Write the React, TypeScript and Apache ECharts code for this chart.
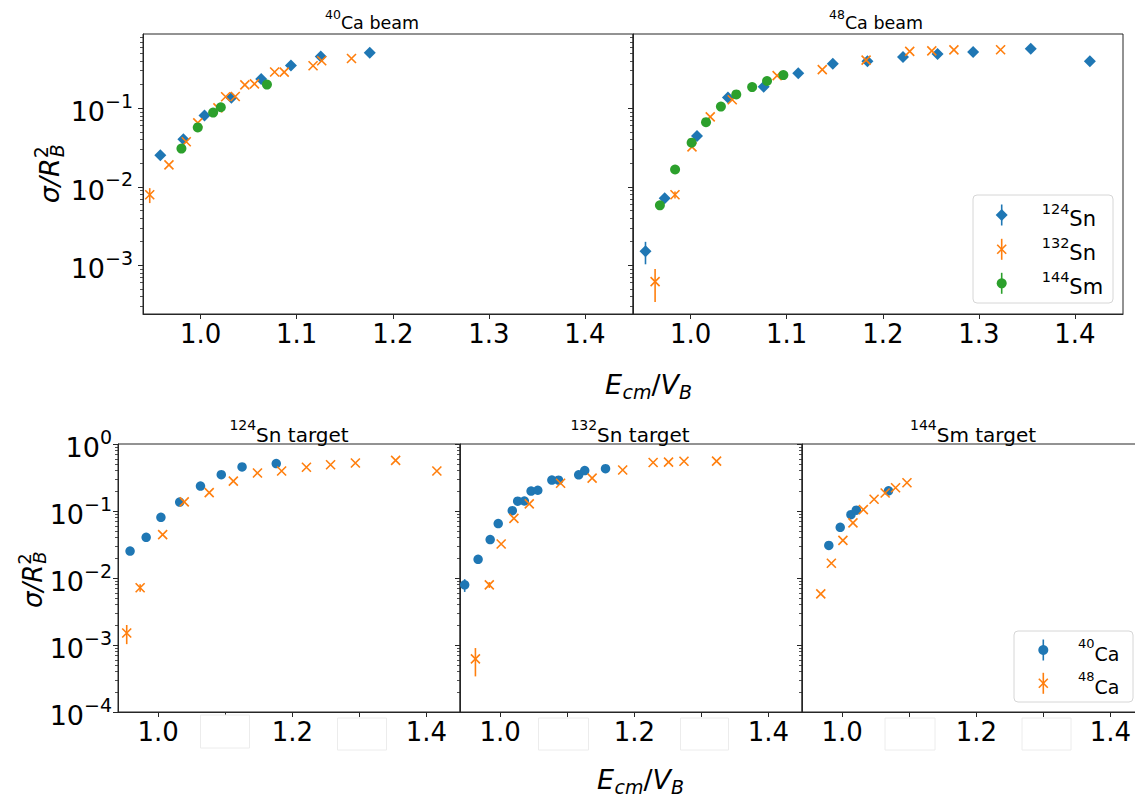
import React, { useEffect, useRef } from "react";
import * as echarts from "echarts";

// ---------------- data: E_cm/V_B (x) and sigma/R_B^2 (y) ----------------
// 124Sn target, 40Ca beam
const sn124Ca40X = [0.958, 0.982, 1.004, 1.032, 1.063, 1.094, 1.125, 1.176];
const sn124Ca40Y = [0.0252, 0.0404, 0.0805, 0.136, 0.236, 0.349, 0.454, 0.51];
const sn124Ca40Err = [0, 0, 0, 0, 0, 0, 0, 0];
// 132Sn target, 40Ca beam
const sn132Ca40X = [0.947, 0.967, 0.985, 0.997, 1.018, 1.026, 1.036, 1.046, 1.056, 1.077, 1.087, 1.117, 1.126, 1.157];
const sn132Ca40Y = [0.0079, 0.019, 0.0374, 0.065, 0.101, 0.14, 0.141, 0.198, 0.204, 0.289, 0.288, 0.347, 0.402, 0.429];
const sn132Ca40Err = [0.0017, 0, 0, 0, 0, 0, 0, 0, 0, 0, 0, 0, 0, 0];
// 144Sm target, 40Ca beam
const sm144Ca40X = [0.98, 0.997, 1.013, 1.021, 1.069];
const sm144Ca40Y = [0.0306, 0.057, 0.088, 0.103, 0.2];
const sm144Ca40Err = [0, 0, 0, 0, 0];
// 124Sn target, 48Ca beam
const sn124Ca48X = [0.953, 0.973, 1.0066, 1.0388, 1.076, 1.112, 1.148, 1.184, 1.221, 1.257, 1.294, 1.354, 1.4155];
const sn124Ca48Y = [0.00151, 0.00715, 0.0444, 0.137, 0.188, 0.279, 0.369, 0.395, 0.449, 0.491, 0.52, 0.57, 0.396];
const sn124Ca48Err = [0.00048, 0.0009, 0, 0, 0, 0, 0, 0, 0, 0, 0, 0, 0];
// 132Sn target, 48Ca beam
const sn132Ca48X = [0.963, 0.9837, 1.0014, 1.0204, 1.0433, 1.09, 1.137, 1.1826, 1.228, 1.251, 1.274, 1.3226];
const sn132Ca48Y = [0.00062, 0.0079, 0.0322, 0.0775, 0.128, 0.26, 0.31, 0.41, 0.53, 0.537, 0.553, 0.555];
const sn132Ca48Err = [0.00028, 0.0008, 0, 0, 0, 0, 0, 0, 0, 0, 0, 0];
// 144Sm target, 48Ca beam
const sm144Ca48X = [0.968, 0.9838, 1.001, 1.016, 1.0315, 1.0475, 1.064, 1.0795, 1.0965];
const sm144Ca48Y = [0.0058, 0.0166, 0.0364, 0.0664, 0.105, 0.15, 0.186, 0.222, 0.264];
const sm144Ca48Err = [0, 0, 0, 0, 0, 0, 0, 0, 0];

// axis ticks
const xTickValues = [1.0, 1.1, 1.2, 1.3, 1.4];
const xLabelsTop = [1.0, 1.1, 1.2, 1.3, 1.4];
const xLabelsBottom = [1.0, 1.2, 1.4];
const yDecadesTop = [-3, -2, -1];
const yDecadesBottom = [-4, -3, -2, -1, 0];
const xRange = [0.94, 1.45];
const yRangeTop = [-3.62, -0.055];
const yRangeBottom = [-4, 0];

// ---------------- styling ----------------
const BLUE = "#1f77b4";
const ORANGE = "#ff7f0e";
const GREEN = "#2ca02c";
const FONT = "DejaVu Sans";
const X_PATH = "path://M0,0L10,10M10,0L0,10";
const SPINE = "#262626";

const GRIDS = [
  { left: 143, top: 34, width: 490, height: 280, top_: true, yLabels: true },
  { left: 633, top: 34, width: 490, height: 280, top_: true, yLabels: false },
  { left: 118, top: 444, width: 342, height: 268, top_: false, yLabels: true },
  { left: 460, top: 444, width: 342, height: 268, top_: false, yLabels: false },
  { left: 802, top: 444, width: 342, height: 268, top_: false, yLabels: false },
];

function minorTicks(lo: number, hi: number) {
  const out: number[] = [];
  for (let d = Math.floor(lo); d <= Math.ceil(hi); d++) {
    for (let k = 2; k <= 9; k++) {
      const v = d + Math.log10(k);
      if (v > lo && v < hi) out.push(v);
    }
  }
  return out;
}

function scatter(xs: number[], ys: number[], grid: number, kind: string, color: string, size: number) {
  const base: any = {
    type: "scatter",
    xAxisIndex: grid,
    yAxisIndex: grid * 2,
    data: xs.map((x, i) => [x, Math.log10(ys[i])]),
    z: 3,
    silent: true,
    symbolSize: size,
  };
  if (kind === "x") {
    return { ...base, symbol: X_PATH, itemStyle: { color, borderColor: color, borderWidth: 1.6, opacity: 1 } };
  }
  return { ...base, symbol: kind, itemStyle: { color, opacity: 1 } };
}

function errorBars(xs: number[], ys: number[], es: number[], grid: number, color: string) {
  const data: number[][] = [];
  xs.forEach((x, i) => {
    if (es[i] > 0) data.push([x, Math.log10(ys[i] - es[i]), Math.log10(ys[i] + es[i])]);
  });
  return {
    type: "custom",
    xAxisIndex: grid,
    yAxisIndex: grid * 2,
    data,
    z: 2,
    silent: true,
    encode: { x: 0, y: [1, 2] },
    renderItem: (_p: any, api: any) => {
      const a = api.coord([api.value(0), api.value(1)]);
      const b = api.coord([api.value(0), api.value(2)]);
      return {
        type: "line",
        shape: { x1: a[0], y1: a[1], x2: b[0], y2: b[1] },
        style: { stroke: color, lineWidth: 1.6 },
      };
    },
  };
}

function supText(sup: string, main: string, x: number, y: number, size: number, supSize: number, align = "center") {
  return {
    type: "text",
    x,
    y,
    z: 25,
    style: {
      text: `{s|${sup}}{n|${main}}`,
      align,
      verticalAlign: "middle",
      fill: "#000",
      rich: {
        s: { fontSize: supSize, lineHeight: supSize, verticalAlign: "top", fontFamily: FONT, fill: "#000" },
        n: { fontSize: size, lineHeight: Math.round(size * 1.35), verticalAlign: "bottom", fontFamily: FONT, fill: "#000" },
      },
    },
  };
}

function mathText(text: string, x: number, y: number, size: number, italic: boolean) {
  return {
    type: "text",
    x,
    y,
    z: 25,
    style: {
      text,
      fontSize: size,
      fontFamily: FONT,
      fontStyle: italic ? "italic" : "normal",
      fill: "#000",
      align: "left",
      verticalAlign: "middle",
    },
  };
}

function yName(gx: number, gy: number, size: number) {
  const sub = Math.round(size * 0.7);
  const w = size * 1.666;
  return {
    type: "group",
    x: gx,
    y: gy,
    rotation: Math.PI / 2,
    children: [
      mathText("σ/R", 0, 0, size, true),
      mathText("2", w, -size * 0.34, sub, false),
      mathText("B", w + 1, size * 0.26, sub, true),
    ],
  };
}

function xName(x0: number, y: number) {
  return {
    type: "group",
    x: x0,
    y,
    children: [
      mathText("E", 0, 0, 27, true),
      mathText("cm", 17.5, 7, 19, true),
      mathText("/", 46.5, 0, 27, false),
      mathText("V", 55.5, 0, 27, true),
      mathText("B", 74, 7.5, 19, true),
    ],
  };
}

function legendEntry(kind: string, color: string, mx: number, my: number) {
  const Z = 30;
  const items: any[] = [
    { type: "line", z: Z, shape: { x1: mx, y1: my - 10.5, x2: mx, y2: my + 10.5 }, style: { stroke: color, lineWidth: 1.6 } },
  ];
  if (kind === "diamond") {
    items.push({ type: "polygon", z: Z + 1, shape: { points: [[mx, my - 6], [mx + 6, my], [mx, my + 6], [mx - 6, my]] }, style: { fill: color } });
  } else if (kind === "circle") {
    items.push({ type: "circle", z: Z + 1, shape: { cx: mx, cy: my, r: 5 }, style: { fill: color } });
  } else {
    items.push({ type: "line", z: Z + 1, shape: { x1: mx - 4.5, y1: my - 4.5, x2: mx + 4.5, y2: my + 4.5 }, style: { stroke: color, lineWidth: 1.6 } });
    items.push({ type: "line", z: Z + 1, shape: { x1: mx - 4.5, y1: my + 4.5, x2: mx + 4.5, y2: my - 4.5 }, style: { stroke: color, lineWidth: 1.6 } });
  }
  return items;
}

function buildOption(): any {
  const grid = GRIDS.map((g) => ({
    left: g.left,
    top: g.top,
    width: g.width,
    height: g.height,
    show: true,
    borderColor: SPINE,
    borderWidth: 1,
    backgroundColor: "transparent",
    containLabel: false,
    outerBoundsMode: "none",
  }));

  const xAxis = GRIDS.map((g, i) => ({
    type: "value",
    gridIndex: i,
    min: xRange[0],
    max: xRange[1],
    splitLine: { show: false },
    axisLine: { show: true, onZero: false, lineStyle: { color: SPINE, width: 1 } },
    axisTick: { show: true, length: 5, inside: false, customValues: xTickValues, lineStyle: { color: SPINE, width: 1 } },
    axisLabel: {
      show: true,
      customValues: g.top_ ? xLabelsTop : xLabelsBottom,
      formatter: (v: number) => v.toFixed(1),
      fontSize: 26,
      lineHeight: 26,
      fontFamily: FONT,
      color: "#000",
      margin: 7,
    },
  }));

  const yAxis: any[] = [];
  GRIDS.forEach((g, i) => {
    const range = g.top_ ? yRangeTop : yRangeBottom;
    const decades = g.top_ ? yDecadesTop : yDecadesBottom;
    yAxis.push({
      type: "value",
      gridIndex: i,
      min: range[0],
      max: range[1],
      splitLine: { show: false },
      axisLine: { show: true, onZero: false, lineStyle: { color: SPINE, width: 1 } },
      axisTick: { show: true, length: 5, inside: false, customValues: decades, lineStyle: { color: SPINE, width: 1 } },
      axisLabel: {
        show: g.yLabels,
        customValues: decades,
        margin: g.top_ ? 10 : 6,
        formatter: (v: number) => {
          const n = Math.round(v);
          return `{b|10}{s|${n < 0 ? "\u2212" + -n : n}}`;
        },
        rich: {
          b: { fontSize: 27, lineHeight: 34, verticalAlign: "bottom", fontFamily: FONT, color: "#000" },
          s: { fontSize: 19, lineHeight: 19, verticalAlign: "top", fontFamily: FONT, color: "#000" },
        },
      },
    });
    yAxis.push({
      type: "value",
      gridIndex: i,
      min: range[0],
      max: range[1],
      position: "left",
      offset: 0,
      splitLine: { show: false },
      axisLine: { show: false },
      axisLabel: { show: false },
      axisTick: { show: true, length: 3, inside: false, customValues: minorTicks(range[0], range[1]), lineStyle: { color: SPINE, width: 0.8 } },
    });
  });

  const series: any[] = [
    // 40Ca beam (top left)
    errorBars(sn124Ca40X, sn124Ca40Y, sn124Ca40Err, 0, BLUE),
    scatter(sn124Ca40X, sn124Ca40Y, 0, "diamond", BLUE, 12),
    errorBars(sn132Ca40X, sn132Ca40Y, sn132Ca40Err, 0, ORANGE),
    scatter(sn132Ca40X, sn132Ca40Y, 0, "x", ORANGE, 9),
    errorBars(sm144Ca40X, sm144Ca40Y, sm144Ca40Err, 0, GREEN),
    scatter(sm144Ca40X, sm144Ca40Y, 0, "circle", GREEN, 10),
    // 48Ca beam (top right)
    errorBars(sn124Ca48X, sn124Ca48Y, sn124Ca48Err, 1, BLUE),
    scatter(sn124Ca48X, sn124Ca48Y, 1, "diamond", BLUE, 12),
    errorBars(sn132Ca48X, sn132Ca48Y, sn132Ca48Err, 1, ORANGE),
    scatter(sn132Ca48X, sn132Ca48Y, 1, "x", ORANGE, 9),
    errorBars(sm144Ca48X, sm144Ca48Y, sm144Ca48Err, 1, GREEN),
    scatter(sm144Ca48X, sm144Ca48Y, 1, "circle", GREEN, 10),
    // 124Sn target
    errorBars(sn124Ca40X, sn124Ca40Y, sn124Ca40Err, 2, BLUE),
    scatter(sn124Ca40X, sn124Ca40Y, 2, "circle", BLUE, 9.5),
    errorBars(sn124Ca48X, sn124Ca48Y, sn124Ca48Err, 2, ORANGE),
    scatter(sn124Ca48X, sn124Ca48Y, 2, "x", ORANGE, 9),
    // 132Sn target
    errorBars(sn132Ca40X, sn132Ca40Y, sn132Ca40Err, 3, BLUE),
    scatter(sn132Ca40X, sn132Ca40Y, 3, "circle", BLUE, 9.5),
    errorBars(sn132Ca48X, sn132Ca48Y, sn132Ca48Err, 3, ORANGE),
    scatter(sn132Ca48X, sn132Ca48Y, 3, "x", ORANGE, 9),
    // 144Sm target
    errorBars(sm144Ca40X, sm144Ca40Y, sm144Ca40Err, 4, BLUE),
    scatter(sm144Ca40X, sm144Ca40Y, 4, "circle", BLUE, 9.5),
    errorBars(sm144Ca48X, sm144Ca48Y, sm144Ca48Err, 4, ORANGE),
    scatter(sm144Ca48X, sm144Ca48Y, 4, "x", ORANGE, 9),
  ];

  const whiteBoxes = [
    [200.5, 715, 49, 33],
    [337.5, 718, 49, 32],
    [538.5, 718, 50, 32],
    [680.5, 718, 48, 32],
    [885, 718, 50, 32],
    [1022, 718, 49, 32],
  ];

  const graphic: any[] = [
    // titles
    supText("40", "Ca beam", 372, 20, 17.5, 12.5),
    supText("48", "Ca beam", 876, 20, 17.5, 12.5),
    supText("124", "Sn target", 289, 431, 20, 14),
    supText("132", "Sn target", 630, 431, 20, 14),
    supText("144", "Sm target", 973, 431, 20, 14),
    // axis names
    yName(49.7, 203.3, 27),
    yName(33, 608, 26),
    xName(605, 384.7),
    xName(597, 779.5),
    // white boxes over bottom tick labels
    ...whiteBoxes.map((b) => ({
      type: "rect",
      z: 19,
      shape: { x: b[0], y: b[1], width: b[2], height: b[3] },
      style: { fill: "#fff", stroke: "#ececec", lineWidth: 1 },
    })),
    // top legend
    { type: "rect", z: 20, shape: { x: 973, y: 195, width: 140, height: 108, r: 4 }, style: { fill: "#fff", stroke: "#d6d6d6", lineWidth: 1 } },
    ...legendEntry("diamond", BLUE, 1001.7, 215),
    ...legendEntry("x", ORANGE, 1001.7, 249.3),
    ...legendEntry("circle", GREEN, 1001.7, 283.3),
    supText("124", "Sn", 1041.7, 215, 21, 14.5, "left"),
    supText("132", "Sn", 1041.7, 249.3, 21, 14.5, "left"),
    supText("144", "Sm", 1041.7, 283.3, 21, 14.5, "left"),
    // bottom legend
    { type: "rect", z: 20, shape: { x: 1014, y: 631, width: 119, height: 71, r: 4 }, style: { fill: "#fff", stroke: "#d6d6d6", lineWidth: 1 } },
    ...legendEntry("circle", BLUE, 1043.3, 650),
    ...legendEntry("x", ORANGE, 1043.3, 683.3),
    supText("40", "Ca", 1078, 650, 19, 13, "left"),
    supText("48", "Ca", 1078, 683.3, 19, 13, "left"),
  ];

  return {
    animation: false,
    backgroundColor: "#fff",
    textStyle: { fontFamily: FONT },
    grid,
    xAxis,
    yAxis,
    series,
    graphic,
  };
}

export default function App() {
  const ref = useRef<HTMLDivElement>(null);
  useEffect(() => {
    const chart = echarts.init(ref.current as HTMLDivElement, null, { renderer: "svg" });
    chart.setOption(buildOption());
    return () => chart.dispose();
  }, []);
  return (
    <div
      ref={ref}
      style={{ position: "absolute", left: 0, top: 0, width: 1135, height: 797, background: "#fff" }}
    />
  );
}
